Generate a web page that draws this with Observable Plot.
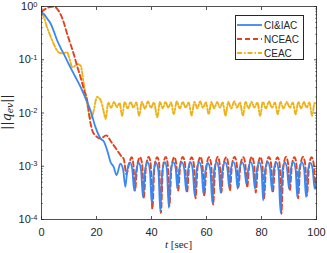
<!DOCTYPE html>
<html><head><meta charset="utf-8">
<script src="https://cdn.jsdelivr.net/npm/d3@7"></script>
<script src="https://cdn.jsdelivr.net/npm/@observablehq/plot@0.6"></script>
<style>
body{margin:0;background:#fff;}
#wrap{position:relative;width:327px;height:253px;font-family:"Liberation Sans",Arial,sans-serif;}
#legend{position:absolute;left:235px;top:15px;width:69px;height:45px;border:1px solid #262626;background:#fff;box-sizing:border-box;}
#legend .row{position:absolute;left:1px;height:12px;display:flex;align-items:center;font-size:10px;color:#262626;}
#legend svg{margin-right:2px;}
#xlab{position:absolute;left:0;width:357px;top:238px;text-align:center;font-size:11px;color:#262626;font-family:"Liberation Serif","DejaVu Serif",serif;}
#ylab{position:absolute;left:-23px;top:104px;width:60px;height:16px;line-height:16px;text-align:center;transform:rotate(-90deg);font-size:12.5px;color:#262626;font-family:"DejaVu Serif","Liberation Serif",serif;white-space:nowrap;}
</style></head><body><div id="wrap"></div><script>
// CI&IAC
const ciT = [0,1,2,3.3,4.5,5.7,7,8.1,10.5,12.3,14.2,16,17.8,19.6,21.5,22.7,24,25.1,26.2,27.3,28.7,
29.7,30.5,31.2,32.2,33.0,33.7,34.4,35.4,36.2,36.9,37.6,38.6,39.4,40.1,40.8,41.7,42.5,43.2,43.9,44.9,45.6,46.3,47.0,48.0,48.8,49.4,50.1,51.1,51.9,52.6,53.3,54.2,55.0,55.7,56.4,57.4,58.2,58.9,59.6,60.5,61.4,62.1,62.8,63.7,64.5,65.1,65.8,66.8,67.6,68.2,68.9,69.8,70.6,71.3,72.0,73.0,73.8,74.5,75.2,76.1,76.9,77.6,78.3,79.2,80.0,80.6,81.3,82.3,83.1,83.8,84.5,85.4,86.2,86.9,87.6,88.5,89.3,90.0,90.7,91.6,92.4,93.0,93.7,94.7,95.5,96.2,96.9,97.8,98.6,99.3,100];
const ciV = [0.78,0.71,0.60,0.48,0.34,0.23,0.166,0.129,0.072,0.048,0.031,0.019,0.0112,0.0055,0.0033,0.0029,0.0019,0.0012,0.00098,0.00068,0.00112,
0.00085,0.00041,0.00085,0.00118,0.00088,0.00035,0.0008,0.00115,0.00085,0.00026,0.00082,0.0012,0.00085,0.0002,0.0008,0.00115,0.00082,0.000145,0.0008,0.0012,0.00085,0.000166,0.00085,0.00118,0.0009,0.00038,0.0009,0.00118,0.00088,0.00035,0.00085,0.0012,0.00085,0.00028,0.00085,0.00118,0.00088,0.0003,0.00082,0.00115,0.00085,0.00021,0.00085,0.0012,0.0009,0.00032,0.0009,0.00118,0.0009,0.00041,0.0009,0.0012,0.0009,0.00038,0.0009,0.00118,0.0009,0.00047,0.0009,0.0012,0.00088,0.00038,0.00085,0.00118,0.00085,0.00023,0.00085,0.0012,0.0009,0.00035,0.00088,0.00118,0.00085,0.000138,0.00085,0.00118,0.00088,0.00038,0.00088,0.0012,0.00088,0.00026,0.00085,0.0012,0.00088,0.00026,0.00085,0.00115,0.00088,0.00038,0.0005];
// NCEAC
const ncT = [0,1.5,3,4.5,5.7,6.9,8.1,9.3,10.5,11.7,13,14.2,15.4,16.6,17.8,18.6,19.6,21.5,23.5,25.5,27.5,29.2,
29.9,30.9,31.8,32.8,33.4,34.0,34.8,35.8,36.6,37.2,38.0,39.0,39.7,40.3,41.1,42.1,42.8,43.4,44.2,45.2,45.9,46.5,47.3,48.3,49.0,49.7,50.5,51.4,52.2,52.9,53.7,54.6,55.4,56.0,56.8,57.8,58.5,59.2,60.0,60.9,61.7,62.4,63.2,64.1,64.8,65.4,66.2,67.2,67.9,68.5,69.3,70.2,71.0,71.6,72.4,73.4,74.1,74.8,75.6,76.5,77.3,77.9,78.7,79.6,80.3,80.9,81.7,82.7,83.5,84.1,84.9,85.8,86.6,87.2,88.0,88.9,89.7,90.3,91.1,92.0,92.7,93.3,94.1,95.1,95.9,96.5,97.3,98.2,99.0,99.6,100];
const ncV = [0.8,0.9,0.98,1.0,0.9,0.72,0.5,0.31,0.2,0.129,0.075,0.047,0.028,0.0174,0.0065,0.0045,0.0038,0.0033,0.0038,0.0028,0.002,0.0015,
0.00138,0.0007,0.0011,0.00148,0.0011,0.00035,0.001,0.00148,0.0011,0.00026,0.001,0.0015,0.0011,0.000158,0.001,0.00148,0.0011,0.000132,0.001,0.0015,0.0011,0.00018,0.001,0.00148,0.0011,0.00035,0.0011,0.0015,0.0011,0.00032,0.001,0.00148,0.0011,0.00025,0.001,0.0015,0.0011,0.00028,0.001,0.00148,0.0011,0.00019,0.001,0.0015,0.0011,0.00032,0.0011,0.00148,0.0011,0.00035,0.0011,0.0015,0.0011,0.0004,0.0011,0.00148,0.0011,0.0004,0.0011,0.0015,0.0011,0.00032,0.001,0.00148,0.0011,0.00025,0.001,0.0015,0.0011,0.00032,0.001,0.00148,0.0011,0.000128,0.001,0.0015,0.0011,0.00035,0.0011,0.00148,0.0011,0.00025,0.001,0.0015,0.0011,0.00028,0.001,0.00148,0.0011,0.00038,0.0006];
// CEAC
const ceT = [0,1,2,3,3.9,4.8,5.7,6.6,7.5,8.4,9.3,10.3,11.2,12.2,13,14.2,15.4,16.6,17.8,18.4,19,20.2,21.5,22.4,
23.3,24.3,25.3,26.4,27.4,28.4,29.3,30.3,31.3,32.4,33.4,34.5,35.5,36.5,37.6,38.7,39.8,40.9,42.1,43.1,44.1,45.1,46.1,47.1,48.1,49.2,50.3,51.4,52.4,53.5,54.6,55.6,56.7,57.7,58.7,59.8,60.8,61.8,62.8,63.9,64.9,65.9,66.9,67.9,69.0,70.1,71.1,72.2,73.2,74.2,75.3,76.4,77.4,78.5,79.5,80.5,81.6,82.7,83.8,84.9,85.9,86.9,88.0,89.2,90.3,91.4,92.4,93.4,94.4,95.4,96.4,97.4,98.4,99.3,100];
const ceV = [0.76,0.6,0.41,0.30,0.23,0.18,0.148,0.135,0.132,0.135,0.138,0.1,0.072,0.077,0.083,0.078,0.035,0.0148,0.0079,0.0085,0.0112,0.02,0.0174,0.012,
0.0078,0.0158,0.0125,0.0162,0.0128,0.0155,0.0089,0.0162,0.0122,0.0162,0.0126,0.0158,0.0089,0.0162,0.012,0.0165,0.0125,0.0158,0.0083,0.0162,0.0122,0.0162,0.0126,0.0158,0.0095,0.0165,0.0122,0.0162,0.0126,0.0158,0.009,0.0162,0.0122,0.0165,0.0126,0.0158,0.0095,0.0162,0.0122,0.0162,0.0126,0.0158,0.0089,0.0162,0.0122,0.0165,0.0126,0.0158,0.0089,0.0162,0.0122,0.0162,0.0126,0.0158,0.0089,0.0162,0.0122,0.0165,0.0126,0.0158,0.0095,0.0162,0.0122,0.0162,0.0126,0.0158,0.0095,0.0162,0.0122,0.0162,0.0126,0.0158,0.0089,0.0155,0.0145];

const seriesNames = ["CI&IAC","NCEAC","CEAC"];
const seriesColors = ["#3a87f2","#e2421c","#eeb218"];
const seriesDash = [null,"5,3","5,2,1.5,2"];
const xTicks = [0,20,40,60,80,100];
const yTicks = [1e-4,1e-3,1e-2,1e-1,1];
const yMinor = [];
for (const k of [-4,-3,-2,-1]) for (let m=2;m<=9;m++) yMinor.push(m*Math.pow(10,k));

const zip = (T,V) => T.map((t,i)=>({t, v:V[i]}));
const sets = [zip(ciT,ciV), zip(ncT,ncV), zip(ceT,ceV)];
const axisCol = "#262626";

const lines = sets.map((d,i)=>Plot.line(d,{x:"t",y:"v",stroke:seriesColors[i],strokeWidth:i===0?1.8:1.9,strokeDasharray:seriesDash[i],curve:"monotone-x",clip:true}));

const chart = Plot.plot({
  width:327, height:253,
  marginLeft:41, marginRight:11, marginTop:6, marginBottom:34,
  style:{fontFamily:'"Liberation Sans",Arial,sans-serif',fontSize:"10px",color:axisCol,background:"#fff"},
  x:{domain:[0,100]},
  y:{type:"log",domain:[1e-4,1]},
  marks:[
    ...[lines[2],lines[1],lines[0]],
    Plot.frame({stroke:axisCol,strokeWidth:0.8}),
    Plot.axisX(xTicks,{anchor:"bottom",tickSize:0,tickPadding:9,label:null,tickFormat:d=>String(d),fontSize:11}),
    Plot.axisX(xTicks,{anchor:"bottom",tickSize:-3,label:null,tickFormat:()=>"",stroke:axisCol,strokeWidth:0.8}),
    Plot.axisX(xTicks,{anchor:"top",tickSize:-3,label:null,tickFormat:()=>"",stroke:axisCol,strokeWidth:0.8}),
    Plot.axisY(yTicks,{anchor:"left",tickSize:0,tickPadding:4,label:null,tickFormat:d=>String(Math.round(Math.log10(d))),fontSize:11}),
    Plot.axisY(yTicks,{anchor:"left",tickSize:-3,label:null,tickFormat:()=>"",stroke:axisCol,strokeWidth:0.8}),
    Plot.axisY(yTicks,{anchor:"right",tickSize:-3,label:null,tickFormat:()=>"",stroke:axisCol,strokeWidth:0.8}),
    Plot.axisY(yMinor,{anchor:"left",tickSize:-1.8,label:null,tickFormat:()=>"",stroke:axisCol,strokeWidth:0.6}),
    Plot.axisY(yMinor,{anchor:"right",tickSize:-1.8,label:null,tickFormat:()=>"",stroke:axisCol,strokeWidth:0.6})
  ]
});
const wrap = document.getElementById("wrap");
wrap.appendChild(chart);

// superscript exponents on y tick labels
d3.select(chart).selectAll('g[aria-label="y-axis tick label"] text').each(function(){
  const e = this.textContent;
  if (!e) return;
  const t = d3.select(this);
  t.text("");
  t.append("tspan").text("10");
  t.append("tspan").attr("dy","-0.45em").attr("font-size","7.5px").text(e);
});

// axis titles
const xl = document.createElement("div"); xl.id="xlab";
xl.innerHTML = '<i>t</i> [sec]';
wrap.appendChild(xl);
const yl = document.createElement("div"); yl.id="ylab";
yl.innerHTML = '||<i>q</i><sub style="font-size:9px;font-style:italic;vertical-align:-2px">ev</sub>||';
wrap.appendChild(yl);

// legend
const lg = document.createElement("div"); lg.id="legend";
seriesNames.forEach((n,i)=>{
  const r = document.createElement("div"); r.className="row"; r.style.top=(3+i*14)+"px";
  r.innerHTML = `<svg width="25" height="6"><line x1="0" y1="3" x2="25" y2="3" stroke="${seriesColors[i]}" stroke-width="1.8" ${seriesDash[i]?`stroke-dasharray="${seriesDash[i]}"`:""}/></svg><span>${n.replace("&","&amp;")}</span>`;
  lg.appendChild(r);
});
wrap.appendChild(lg);
</script></body></html>
